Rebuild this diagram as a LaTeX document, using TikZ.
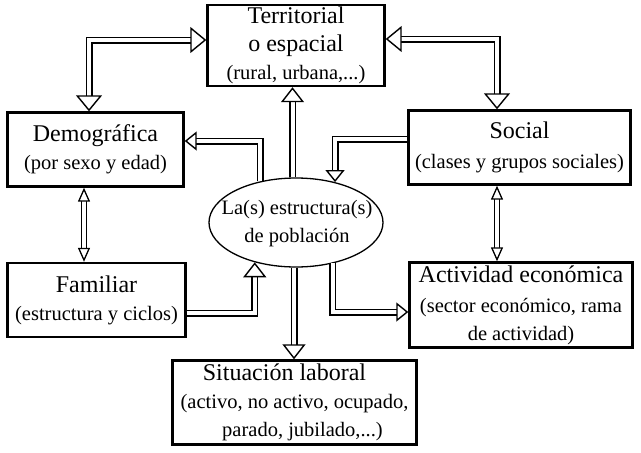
\documentclass[tikz,border=0pt]{standalone}
\usepackage{fontspec}
\setmainfont{Liberation Serif}
\usetikzlibrary{arrows.meta,shapes.geometric}
\newcommand{\mtxt}[1]{{\fontsize{24}{28}\selectfont #1}}
\begin{document}
\begin{tikzpicture}[x=1pt,y=-1pt,
  box/.style={draw, line width=2.4pt, rectangle, inner sep=2pt, align=center,
              font=\fontsize{20.5}{28}\selectfont},
  bar/.style={draw, line width=1.5pt, double=white, double distance=4pt},
  thinbar/.style={draw, line width=1.3pt, double=white, double distance=3.2pt},
  hdL/.tip={Triangle[fill=white, line width=1.4pt, length=16pt, width=26pt]},
  hdM/.tip={Triangle[fill=white, line width=1.4pt, length=15pt, width=23pt]},
  hdS/.tip={Triangle[fill=white, line width=1.4pt, length=12pt, width=19pt]},
  hdT/.tip={Triangle[fill=white, line width=1.3pt, length=14pt, width=12pt]}]
\useasboundingbox (0,0) rectangle (641,453);

\node[box, minimum width=177pt, minimum height=80pt] (terr) at (296,45.5)
  {\mtxt{Territorial}\\\mtxt{o espacial}\\(rural, urbana,...)};
\node[box, minimum width=176pt, minimum height=74pt] (dem) at (95.5,149.5)
  {\mtxt{Demográfica}\\(por sexo y edad)};
\node[box, minimum width=222pt, minimum height=74pt] (soc) at (519.5,147.5)
  {\mtxt{Social}\\[2pt](clases y grupos sociales)};
\node[box, minimum width=178pt, minimum height=74pt] (fam) at (96.5,300)
  {\mtxt{Familiar}\\(estructura y ciclos)};
\node[box, minimum width=223pt, minimum height=85pt] (act) at (521,305)
  {\mtxt{Actividad económica}\\[2pt](sector económico, rama\\de actividad)};
\node[box, minimum width=244pt, minimum height=84pt] (sit) at (294.5,402.5)
  {\mtxt{Situación laboral\hbox to20pt{}}\\(activo, no activo, ocupado,\\\hbox to16pt{}parado, jubilado,...)};

\node[ellipse, draw, line width=1.3pt, minimum width=174pt, minimum height=89pt, inner sep=0pt] (ell) at (296,222.5) {};
\node[align=center, inner sep=0pt, font=\fontsize{20.5}{28}\selectfont] (ellt) at (297,224)
  {La(s) estructura(s)\\de población};

% connectors
\draw[bar, {hdL}-{hdL}] ([xshift=-6.5pt]dem.north) |- ([yshift=5.5pt]terr.west);
\draw[bar, {hdL}-{hdL}] ([yshift=6.5pt]terr.east) -| ([xshift=-22.5pt]soc.north);
\draw[bar, -{hdM}] ([xshift=-3.5pt]ell.north) -- ([xshift=-3.5pt]terr.south);
\draw[bar, -{hdS}] (ell.131.6) |- ([yshift=8.5pt]dem.east);
\draw[bar, -{hdS}] ([yshift=8.5pt]soc.west) -| (ell.46.5);
\draw[thinbar, {hdT}-{hdT}] ([xshift=-11.5pt]dem.south) -- ([xshift=-12.5pt]fam.north);
\draw[bar, -{hdM}] ([yshift=-13pt]fam.east) -| (ell.224.6);
\draw[bar, -{hdM}] ([xshift=-2pt]ell.south) -- ([xshift=-0.5pt]sit.north);
\draw[bar, -{hdS}] (ell.312.6) |- ([yshift=-7pt]act.west);
\draw[thinbar, {hdT}-{hdT}] ([xshift=-22.5pt]soc.south) -- ([xshift=-24pt]act.north);
\end{tikzpicture}
\end{document}
